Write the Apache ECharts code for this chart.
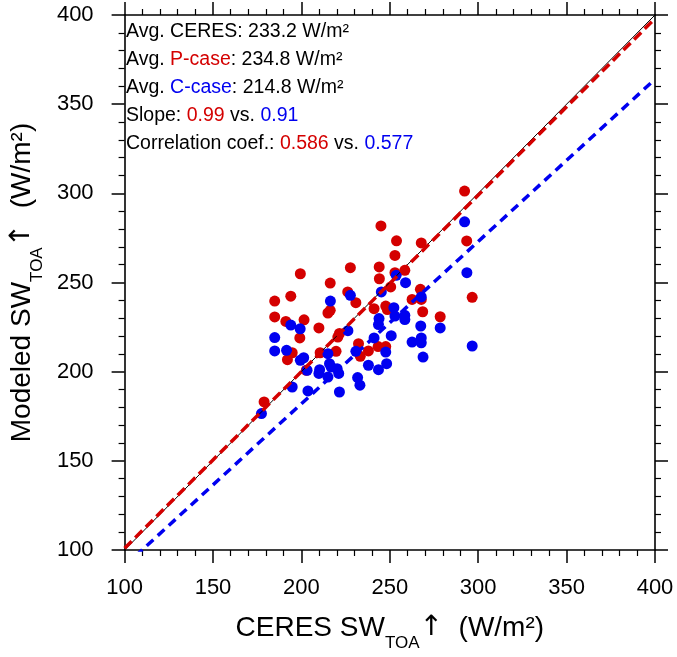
<!DOCTYPE html>
<html>
<head>
<meta charset="utf-8">
<script src="https://cdn.jsdelivr.net/npm/echarts@6/dist/echarts.min.js"></script>
<style>
html,body{margin:0;padding:0;background:#fff;}
#chart{width:677px;height:657px;}
</style>
</head>
<body>
<div id="chart"></div>
<script>
// ---- data ----
const axisRange = [100, 400];
const axisTicks = [100, 150, 200, 250, 300, 350, 400];

// P-case: CERES (x) vs modeled (y)
const pX = [292.3,293.5,296.6,245.0,253.8,267.8,252.9,244.0,258.5,252.9,244.1,250.5,267.3,262.6,267.8,241.1,247.7,248.6,268.6,278.5,243.4,247.7,199.4,227.7,216.3,184.9,194.0,226.2,230.8,216.3,215.0,184.9,191.2,201.5,209.9,199.1,221.5,220.6,194.8,192.1,210.6,219.6,232.3,237.9,233.3,178.9,202.8];
const pY = [301.3,273.3,241.7,281.7,273.4,272.2,265.2,258.7,256.8,255.5,252.1,247.5,246.2,240.5,240.5,235.3,236.8,234.8,233.6,230.8,214.1,214.1,254.9,258.3,249.7,239.6,242.3,244.7,238.7,234.4,232.9,230.7,228.2,229.1,224.5,218.9,221.4,219.4,210.6,206.7,210.6,211.4,215.7,211.6,208.6,183.0,200.8];

// C-case: CERES (x) vs modeled (y)
const cX = [292.3,293.6,296.6,253.6,258.9,245.2,267.8,252.3,252.9,258.5,258.5,243.9,243.6,267.5,278.5,241.1,250.8,262.6,267.8,267.8,247.7,268.8,248.2,243.6,216.4,227.7,194.0,199.3,184.9,226.3,184.9,191.6,199.4,201.3,215.0,230.8,203.2,210.3,215.9,216.8,220.2,209.9,215.0,221.1,237.9,231.8,233.1,221.5,194.8,203.7,177.4];
const cY = [284.0,255.5,214.4,254.0,249.9,244.7,241.9,235.9,231.2,231.6,229.2,229.8,226.4,225.6,224.5,218.9,220.2,216.6,218.9,216.2,211.0,208.2,204.5,201.1,239.6,242.8,226.1,224.0,219.1,223.0,211.6,212.0,206.4,207.8,210.1,211.4,200.8,201.1,204.5,202.6,201.7,199.0,197.0,199.0,203.6,196.7,192.4,188.6,191.4,189.2,176.5];

// statistics (P-case, C-case)
const avgCeres = 233.2;
const avgCases = [234.8, 214.8];
const slopes = [0.99, 0.91];
const intercepts = [2.0, 0.0];
const corrs = ['0.586', '0.577'];

// ---- styling ----
const RED = '#d40000';
const BLUE = '#0000f0';
const FONT = '"Liberation Sans", Arimo, Helvetica, Arial, "DejaVu Sans", sans-serif';

const pts = (xs, ys) => xs.map((x, i) => [x, ys[i]]);
const fitLine = (k) => axisRange.map(x => [x, slopes[k] * x + intercepts[k]]);
const oneToOne = axisRange.map(v => [v, v]);

const titleRich = {
  a: { fontSize: 28, fontFamily: FONT, color: '#000', padding: [0, 0, 10, 0] },
  u: { fontSize: 28, fontFamily: '"DejaVu Sans", sans-serif', color: '#000', padding: [0, 0, 10, 0] },
  s: { fontSize: 17, fontFamily: FONT, color: '#000', verticalAlign: 'bottom' }
};

function makeAxis(pos, showLabel, name, nameGap, labelMargin) {
  return {
    type: 'value', min: axisRange[0], max: axisRange[1], interval: 50,
    position: pos,
    axisLine: { show: true, onZero: false, lineStyle: { color: '#000', width: 1.6 } },
    axisTick: { show: true, inside: false, length: 13, lineStyle: { color: '#000', width: 1.5 } },
    minorTick: { show: true, splitNumber: 5, length: 6, lineStyle: { color: '#000', width: 1.2 } },
    splitLine: { show: false },
    axisLabel: {
      show: showLabel, fontSize: 22, fontFamily: FONT, color: '#000', margin: labelMargin,
      formatter: v => axisTicks.includes(v) ? String(v) : ''
    },
    name: name, nameLocation: 'middle', nameGap: nameGap,
    nameTextStyle: { rich: titleRich }
  };
}

const rich = {
  k: { fontSize: 19.5, fontFamily: FONT, fill: '#000' },
  r: { fontSize: 19.5, fontFamily: FONT, fill: RED },
  b: { fontSize: 19.5, fontFamily: FONT, fill: BLUE }
};
const annLines = [
  '{k|Avg. CERES: ' + avgCeres.toFixed(1) + ' W/m²}',
  '{k|Avg. }{r|P-case}{k|: ' + avgCases[0].toFixed(1) + ' W/m²}',
  '{k|Avg. }{b|C-case}{k|: ' + avgCases[1].toFixed(1) + ' W/m²}',
  '{k|Slope: }{r|' + slopes[0].toFixed(2) + '}{k| vs. }{b|' + slopes[1].toFixed(2) + '}',
  '{k|Correlation coef.: }{r|' + corrs[0] + '}{k| vs. }{b|' + corrs[1] + '}'
];

const chart = echarts.init(document.getElementById('chart'), null, { renderer: 'canvas' });
chart.setOption({
  animation: false,
  backgroundColor: '#fff',
  grid: { left: 120, right: 22, top: 15, bottom: 105, containLabel: false },
  xAxis: [
    makeAxis('bottom', true, '{a|CERES SW}{s|TOA}{u|↑}{a|  (W/m²)}', 64, 27),
    makeAxis('top', false, '', 0, 8)
  ],
  yAxis: [
    makeAxis('left', true, '{a|Modeled SW}{s|TOA}{u|↑}{a|  (W/m²)}', 66, 31),
    makeAxis('right', false, '', 0, 8)
  ],
  graphic: annLines.map((t, i) => ({
    type: 'text', left: 126, top: 22 + i * 28, z: 100,
    style: { text: t, rich: rich, fill: '#000' }
  })),
  series: [
    { type: 'scatter', xAxisIndex: 0, yAxisIndex: 0, data: pts(pX, pY), symbolSize: 11,
      itemStyle: { color: RED, opacity: 1 } },
    { type: 'scatter', xAxisIndex: 0, yAxisIndex: 0, data: pts(cX, cY), symbolSize: 11,
      itemStyle: { color: BLUE, opacity: 1 } },
    { type: 'line', data: oneToOne, symbol: 'none', clip: true,
      lineStyle: { color: '#000', width: 1 } },
    { type: 'line', data: fitLine(0), symbol: 'none', clip: true,
      lineStyle: { color: RED, width: 3.5, type: [10, 5] } },
    { type: 'line', data: fitLine(1), symbol: 'none', clip: true,
      lineStyle: { color: BLUE, width: 3.5, type: [9, 6] } }
  ]
});
</script>
</body>
</html>
